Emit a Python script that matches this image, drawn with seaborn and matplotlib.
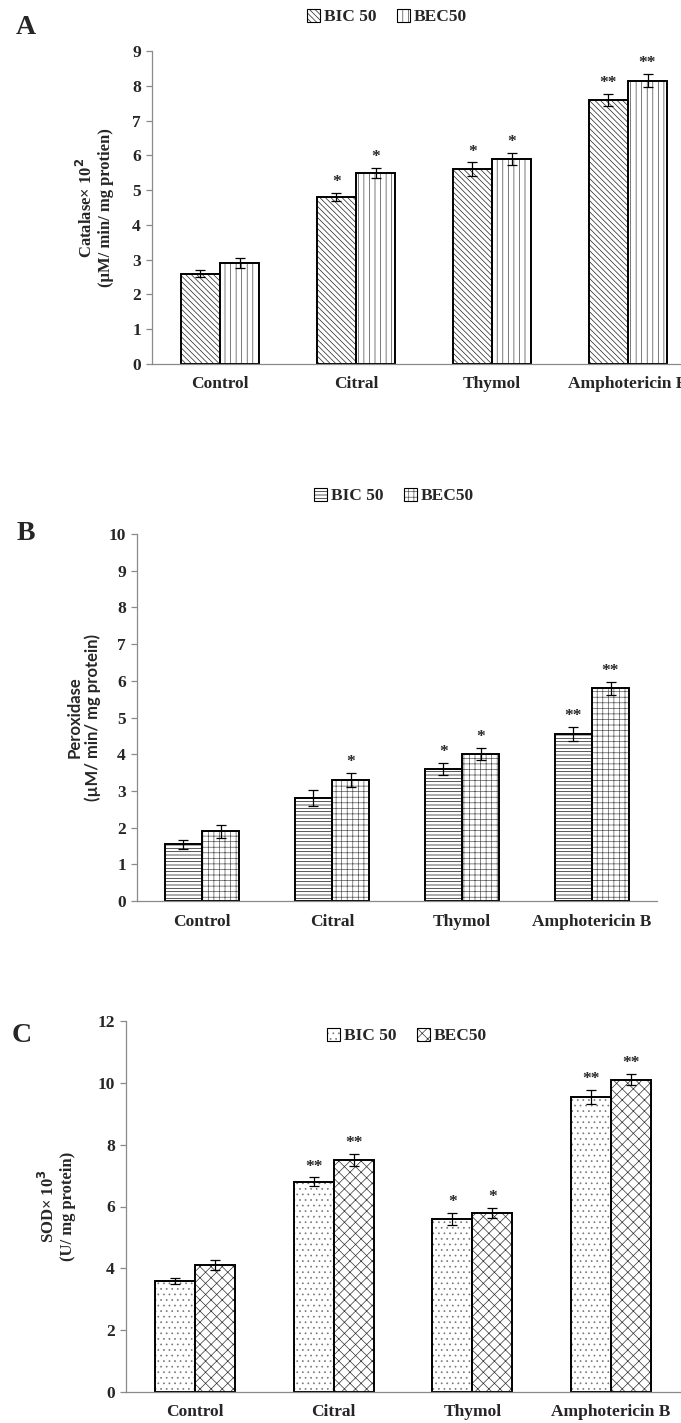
import matplotlib
matplotlib.use("Agg")
import matplotlib.pyplot as plt
import matplotlib.patches as mpatches
from matplotlib.container import BarContainer
import numpy as np
import pandas as pd
import seaborn as sns

# ---------------- data ----------------
categories = ["Control", "Citral", "Thymol", "Amphotericin B"]
series = ["BIC 50", "BEC50"]

cat_bic = [2.6, 4.8, 5.6, 7.6]
cat_bec = [2.9, 5.5, 5.9, 8.15]
cat_bic_err = [0.1, 0.12, 0.2, 0.17]
cat_bec_err = [0.15, 0.15, 0.17, 0.19]
cat_bic_sig = ["", "*", "*", "**"]
cat_bec_sig = ["", "*", "*", "**"]

per_bic = [1.55, 2.8, 3.6, 4.55]
per_bec = [1.9, 3.3, 4.0, 5.8]
per_bic_err = [0.12, 0.22, 0.16, 0.2]
per_bec_err = [0.18, 0.2, 0.17, 0.18]
per_bic_sig = ["", "", "*", "**"]
per_bec_sig = ["", "*", "*", "**"]

sod_bic = [3.6, 6.8, 5.6, 9.55]
sod_bec = [4.1, 7.5, 5.8, 10.1]
sod_bic_err = [0.1, 0.14, 0.2, 0.22]
sod_bec_err = [0.17, 0.19, 0.16, 0.18]
sod_bic_sig = ["", "**", "*", "**"]
sod_bec_sig = ["", "**", "*", "**"]

# ---------------- style ----------------
sns.set_theme(style="white")
plt.rcParams["font.family"] = ["Liberation Serif", "DejaVu Serif"]
plt.rcParams["font.weight"] = "bold"
plt.rcParams["hatch.linewidth"] = 0.5
plt.rcParams["axes.edgecolor"] = "#8a8a8a"
plt.rcParams["axes.linewidth"] = 0.9

W, H = 681, 1423
fig = plt.figure(figsize=(W / 100, H / 100), dpi=100)


def frac_axes(left, right, top, bottom):
    return fig.add_axes([left / W, 1 - bottom / H, (right - left) / W, (bottom - top) / H])


def panel(ax, bic, bec, bic_err, bec_err, bic_sig, bec_sig, hatches, hcolors, width, ymax, ystep,
          ylabel, ylabel_x, ylabel_family, legend_xy, letter, letter_xy):
    df = pd.DataFrame({
        "Treatment": categories * 2,
        "Value": list(bic) + list(bec),
        "Series": [series[0]] * 4 + [series[1]] * 4,
    })
    # hatch layer
    sns.barplot(data=df, x="Treatment", y="Value", hue="Series", order=categories,
                hue_order=series, width=width, errorbar=None, palette=["white", "white"],
                edgecolor="black", linewidth=0, legend=False, ax=ax, saturation=1)
    hatch_conts = [c for c in ax.containers if isinstance(c, BarContainer)]
    for i, cont in enumerate(hatch_conts):
        for p in cont.patches:
            p.set_hatch(hatches[i])
            p.set_edgecolor(hcolors[i])
            p.set_linewidth(0)
    # outline layer
    sns.barplot(data=df, x="Treatment", y="Value", hue="Series", order=categories,
                hue_order=series, width=width, errorbar=None, palette=["black", "black"],
                fill=False, linewidth=1.4, legend=False, ax=ax, saturation=1)
    errs = [bic_err, bec_err]
    sigs = [bic_sig, bec_sig]
    for i, cont in enumerate(hatch_conts):
        xs = [p.get_x() + p.get_width() / 2 for p in cont.patches]
        ys = [p.get_height() for p in cont.patches]
        ax.errorbar(xs, ys, yerr=errs[i], fmt="none", ecolor="black", elinewidth=0.9,
                    capsize=3.5, capthick=0.9, zorder=5)
        for x, y, e, s in zip(xs, ys, errs[i], sigs[i]):
            if s:
                ax.annotate(s, (x, y + e), xytext=(0, 2), textcoords="offset points",
                            ha="center", va="bottom", fontsize=12.5, fontweight="bold",
                            family=["Liberation Serif"])
    ax.set_xlim(-0.5, 3.5)
    ax.set_ylim(0, ymax)
    ticks = np.arange(0, ymax + 0.01, ystep)
    ax.set_yticks(ticks)
    ax.set_yticklabels([f"{int(v)}" for v in ticks])
    ax.set_xticks(range(4))
    ax.set_xticklabels(categories)
    ax.set_xticks([-0.5, 0.5, 1.5, 2.5, 3.5], minor=True)
    ax.tick_params(axis="x", which="major", length=0, pad=9, labelsize=12.5)
    ax.tick_params(axis="x", which="minor", length=5, width=0.9, color="#8a8a8a", direction="out")
    ax.tick_params(axis="y", which="major", length=4, width=0.9, color="#8a8a8a", direction="out",
                   pad=4, labelsize=12.5, left=True)
    for lab in ax.get_xticklabels() + ax.get_yticklabels():
        lab.set_fontweight("bold")
    sns.despine(ax=ax, top=True, right=True)
    ax.set_xlabel("")
    ax.set_ylabel(ylabel, fontsize=12, fontweight="bold", family=ylabel_family, linespacing=1.1)
    ax.yaxis.label.set_va("center")
    ax.yaxis.set_label_coords(ylabel_x, 0.5)
    handles = []
    for h, c in zip(hatches, hcolors):
        hp = mpatches.Patch(facecolor="white", edgecolor=c, linewidth=0, hatch=h)
        op = mpatches.Patch(facecolor="none", edgecolor="black", linewidth=0.8)
        handles.append((hp, op))
    fig.legend(handles, series, loc="center", bbox_to_anchor=legend_xy, ncol=2, frameon=False,
               handlelength=0.75, handleheight=0.75, handletextpad=0.2, columnspacing=1.2,
               prop={"weight": "bold", "size": 12.5, "family": "Liberation Serif"})
    fig.text(letter_xy[0] / W, 1 - letter_xy[1] / H, letter, fontsize=20, fontweight="bold",
             ha="center", va="center")


# Panel A
axA = frac_axes(152, 696, 51, 364)
panel(axA, cat_bic, cat_bec, cat_bic_err, cat_bec_err, cat_bic_sig, cat_bec_sig,
      ["\\\\\\\\\\\\", "|||"], ["#222222", "#444444"], 0.574, 9, 1,
      "Catalase× 10$^{\\mathbf{2}}$\n(µM/ min/ mg protien)", (95 - 152) / 544,
      ["Liberation Serif"], (387 / W, 1 - 17 / H), "A", (26, 28))

# Panel B
axB = frac_axes(137, 657, 534, 901)
panel(axB, per_bic, per_bec, per_bic_err, per_bec_err, per_bic_sig, per_bec_sig,
      ["-----", "+++"], ["#111111", "#555555"], 0.57, 10, 1,
      "Peroxidase\n(µM/ min/ mg protein)", (84 - 137) / 520,
      ["Lato", "DejaVu Sans"], (394 / W, 1 - 496 / H), "B", (26, 533))

# Panel C
axC = frac_axes(126, 680, 1021, 1392)
panel(axC, sod_bic, sod_bec, sod_bic_err, sod_bec_err, sod_bic_sig, sod_bec_sig,
      ["...", "xxx"], ["#777777", "#333333"], 0.578, 12, 2,
      "SOD× 10$^{\\mathbf{3}}$\n(U/ mg protein)", (57 - 126) / 554,
      ["Liberation Serif"], (407 / W, 1 - 1036 / H), "C", (22, 1036))

fig.savefig("out.png", dpi=100)
